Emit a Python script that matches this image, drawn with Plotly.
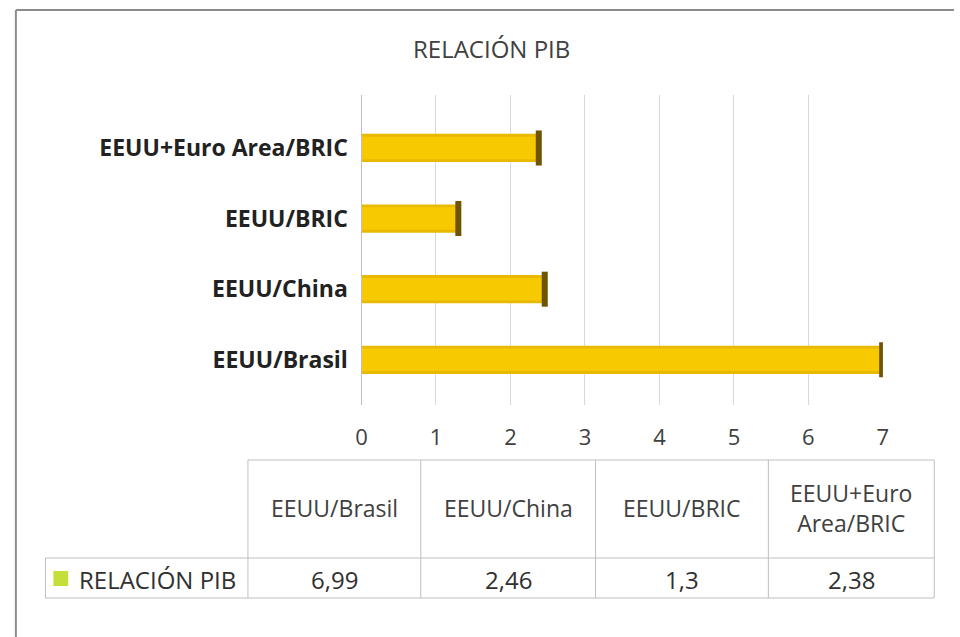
import plotly.graph_objects as go

# ---- data ----
categories = ["EEUU/Brasil", "EEUU/China", "EEUU/BRIC", "EEUU+Euro Area/BRIC"]
header_labels = ["EEUU/Brasil", "EEUU/China", "EEUU/BRIC", "EEUU+Euro<br>Area/BRIC"]
values = [6.99, 2.46, 1.3, 2.38]
series_name = "RELACIÓN PIB"
x_ticks = [0, 1, 2, 3, 4, 5, 6, 7]

W, H = 960, 637
FONT = "Open Sans"

def px(x):
    return x / W

def py(y):
    return 1 - y / H

fig = go.Figure()
# cylinder-like bar: darker base + lighter core
fig.add_trace(go.Bar(
    x=values, y=categories, orientation="h", width=0.40,
    marker=dict(color="#E9B800", line=dict(width=0)),
    showlegend=False, hoverinfo="skip",
))
fig.add_trace(go.Bar(
    x=values, y=categories, orientation="h", width=0.32,
    marker=dict(color="#F7C900", line=dict(width=0)),
    name=series_name, showlegend=False,
))
# dark end caps
fig.add_trace(go.Scatter(
    x=values, y=categories, mode="markers",
    marker=dict(symbol="line-ns", size=25, line=dict(width=6, color="#6E5400")),
    showlegend=False, hoverinfo="skip",
))

fig.update_layout(
    width=W, height=H,
    margin=dict(l=0, r=0, t=0, b=0),
    paper_bgcolor="white", plot_bgcolor="white",
    font=dict(family=FONT, color="#404040"),
    barmode="overlay",
    xaxis=dict(
        domain=[px(360), px(888)], anchor="y",
        range=[0, 7], tickvals=x_ticks,
        showgrid=True, gridcolor="#D9D9D9", gridwidth=1,
        zeroline=False, showline=False,
        tickfont=dict(size=22, color="#404040"),
        ticks="", ticklabelstandoff=17,
    ),
    yaxis=dict(
        domain=[py(405), py(95)],
        type="category", categoryorder="array", categoryarray=categories,
        range=[-0.64, 3.75],
        showgrid=False, zeroline=False,
        showline=True, linecolor="#BFBFBF", linewidth=1,
        tickfont=dict(size=23, color="#222222", family=FONT),
        ticks="", ticklabelstandoff=8,
        tickvals=categories, ticktext=[f"<b>{c}</b>" for c in categories],
    ),
)

shapes = []
def line(x0, y0, x1, y1, color="#BFBFBF", w=1):
    shapes.append(dict(type="line", xref="paper", yref="paper",
                       x0=px(x0), y0=py(y0), x1=px(x1), y1=py(y1),
                       line=dict(color=color, width=w)))

# chart frame
line(10, 10, 960, 10, "#8C8C8C", 2)
line(10, 10, 10, 637, "#8C8C8C", 2)

# data table
col_edges = [245, 420, 597, 772, 940]
line(245, 460, 940, 460)
line(40, 558, 940, 558)
line(40, 598, 940, 598)
line(40, 558, 40, 598)
for xe in col_edges:
    line(xe, 460, xe, 598)

# legend key
shapes.append(dict(type="rect", xref="paper", yref="paper",
                   x0=px(48), x1=px(63), y0=py(586), y1=py(571),
                   fillcolor="#C6DE3A", line=dict(width=0)))

annotations = [
    dict(text=series_name, x=px(492), y=py(48), xref="paper", yref="paper",
         xanchor="center", yanchor="middle",
         showarrow=False, font=dict(size=24, color="#404040", family=FONT)),
    dict(text=series_name, x=px(72), y=py(579), xref="paper", yref="paper",
         xanchor="left", yanchor="middle",
         showarrow=False, font=dict(size=24, color="#303030", family=FONT)),
]
for i, (lab, v) in enumerate(zip(header_labels, values)):
    cx = (col_edges[i] + col_edges[i + 1]) / 2
    annotations.append(dict(text=lab, x=px(cx), y=py(508), xref="paper", yref="paper",
                            xanchor="center", yanchor="middle",
                            showarrow=False, font=dict(size=23, color="#404040", family=FONT)))
    annotations.append(dict(text=f"{v:g}".replace(".", ","), x=px(cx), y=py(579),
                            xref="paper", yref="paper", xanchor="center", yanchor="middle",
                            showarrow=False, font=dict(size=24, color="#303030", family=FONT)))

fig.update_layout(shapes=shapes, annotations=annotations)
fig.write_html("out.html",
               config={"displayModeBar": False},
               post_script="document.body.style.margin='0';document.body.style.overflow='hidden';")
